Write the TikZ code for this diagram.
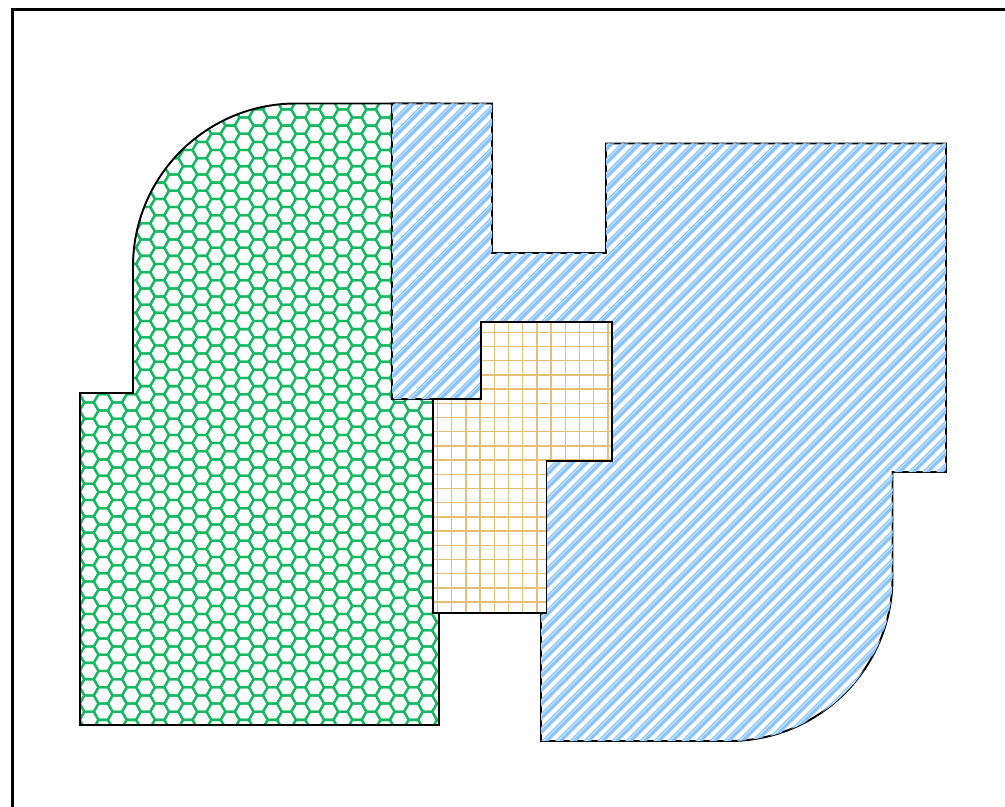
\documentclass[tikz,border=0pt]{standalone}
\definecolor{hexgreen}{RGB}{22,184,98}
\definecolor{stripeblue}{RGB}{138,196,250}
\definecolor{stripelight}{RGB}{205,229,252}
\definecolor{gridtan}{RGB}{228,192,118}
% the three outlines, in pixel units with y upwards
\newcommand\greenshape{(80,81) -- (80,413) -- (133,413) -- (133,539.5) arc[start angle=180,end angle=90,radius=163] -- (439,702.5) -- (439,81) -- cycle}
\newcommand\blueshape{(392,702.5) -- (492,702.5) -- (492,553) -- (606,553) -- (606,662.5) -- (946,662.5) -- (946,334) -- (892.5,334) -- (892.5,228) arc[start angle=0,end angle=-90,radius=163] -- (541,65) -- (541,345) -- (612,345) -- (612,484) -- (481,484) -- (481,407) -- (392,407) -- cycle}
\newcommand\orangeshape{(433,193) -- (433,407) -- (481,407) -- (481,484) -- (612,484) -- (612,345) -- (546.5,345) -- (546.5,193) -- cycle}
\begin{document}
\begin{tikzpicture}[
    x=0.02cm,y=0.02cm,
    frame/.style={draw=black,line width=1.5pt},
    outline/.style={draw=black,line width=1.1pt},
    hexline/.style={draw=hexgreen,line width=1.3pt},
    stripe/.style={draw=stripeblue,line width=3.1pt},
    stripelt/.style={draw=stripelight,line width=0.6pt},
    gridline/.style={draw=gridtan,line width=0.8pt}
]
\useasboundingbox (0,0) rectangle (1005,806);
\clip (0,0) rectangle (1005,806);

\draw[frame] (12.5,-20) -- (12.5,796.5) -- (1030,796.5);

% hexagons
\begin{scope}
  \clip \greenshape;
  \foreach \i in {0,...,27}{
    \foreach \j in {0,...,39}{
      \pgfmathsetmacro\hx{75+\i*14.1}
      \pgfmathsetmacro\hy{78+\j*16.28+mod(\i,2)*8.14}
      \draw[hexline,shift={(\hx,\hy)}] (0:9.4) -- (60:9.4) -- (120:9.4) -- (180:9.4) -- (240:9.4) -- (300:9.4) -- cycle;
    }
  }
\end{scope}
\draw[outline] \greenshape;

% stripes
\fill[white] \blueshape;
\draw[outline] \blueshape;
\begin{scope}
  \clip \blueshape;
  \foreach \c in {-900,-886,...,330}{
    \draw[stripe] (370,370+\c) -- (970,970+\c);
    \draw[stripelt] (370,371.5+\c) -- (970,971.5+\c);
  }
\end{scope}

% grid
\fill[white] \orangeshape;
\begin{scope}
  \clip \orangeshape;
  \foreach \gx in {423.3,437.5,...,625}
    \draw[gridline] (\gx,180) -- (\gx,500);
  \foreach \gy in {175.5,189.7,...,500}
    \draw[gridline] (420,\gy) -- (625,\gy);
\end{scope}
\draw[outline] \orangeshape;
\end{tikzpicture}
\end{document}
